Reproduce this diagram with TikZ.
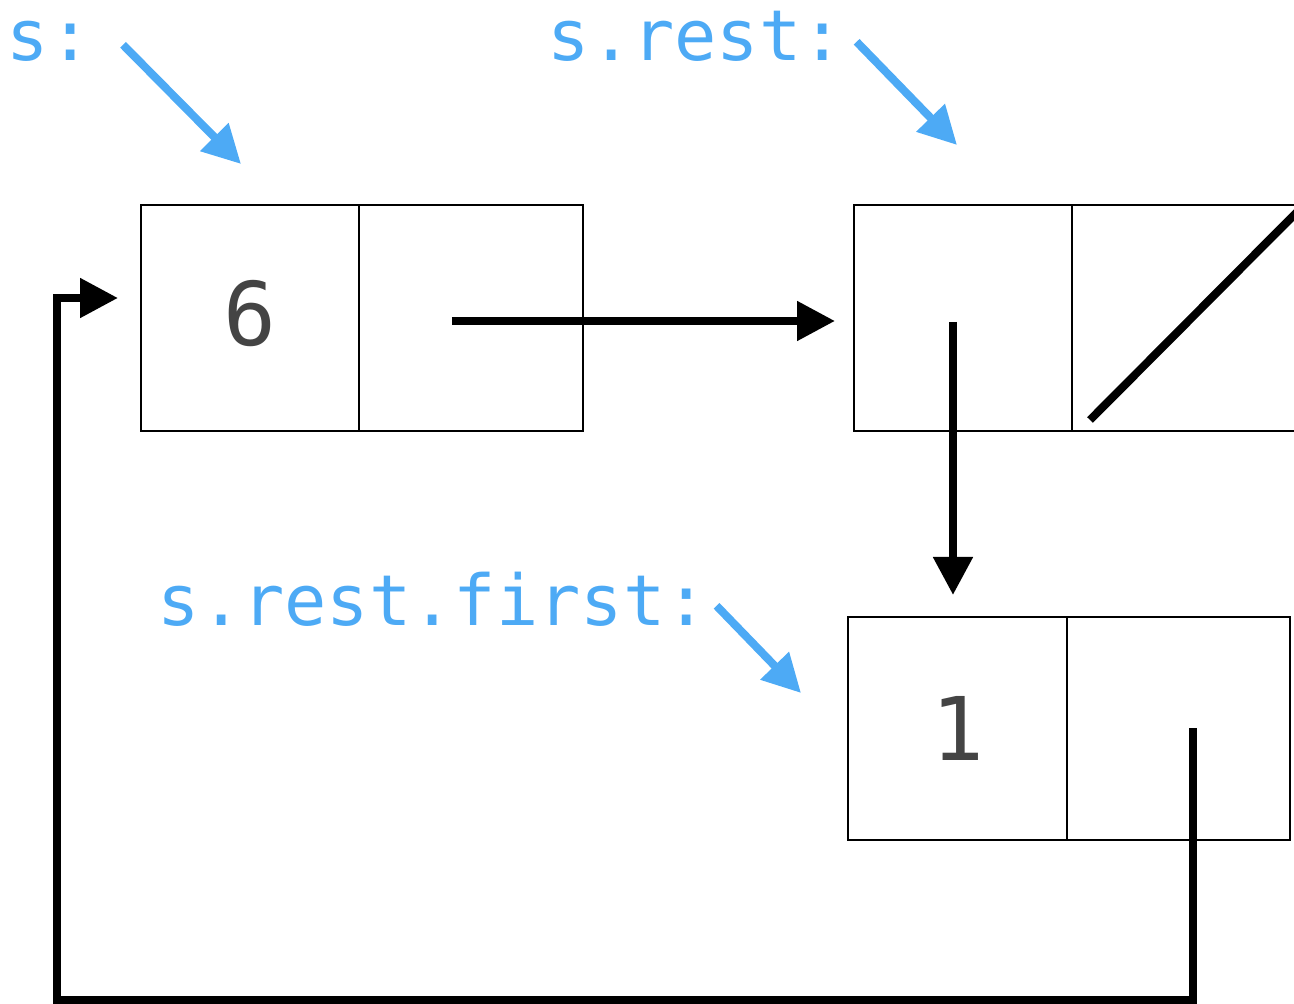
\documentclass[tikz,border=0pt]{standalone}
\usepackage{fontspec}
\setmonofont{DejaVu Sans Mono}
\usetikzlibrary{arrows.meta,positioning}
\definecolor{labelblue}{RGB}{77,170,245}
\definecolor{digitgray}{RGB}{68,68,68}
\tikzset{
  cell/.style={draw, line width=0.6pt, rectangle, minimum height=2.26cm, outer sep=0pt, inner sep=0pt, font=\ttfamily\fontsize{25}{30}\selectfont, text=digitgray},
  firstcell/.style={cell, minimum width=2.18cm},
  restcell/.style={cell, minimum width=2.24cm},
  ptr/.style={line width=2.3pt, -{Triangle[length=0.38cm,width=0.38cm]}},
  varname/.style={font=\ttfamily\fontsize{20}{24}\selectfont, text=labelblue, anchor=base west, inner sep=0pt},
  namearrow/.style={labelblue, line width=2.3pt, -{Triangle[length=0.38cm,width=0.38cm]}},
}

\begin{document}
\begin{tikzpicture}[x=0.1mm, y=-0.1mm]
    \useasboundingbox (0,0) rectangle (1294,1004);

    % pair holding 6
    \node[firstcell, text depth=0.1cm] (six) at (250,318) {6};
    \node[restcell, right=0pt of six] (sixrest) {};
    % pair whose rest is empty
    \node[firstcell] (mid) at (963,318) {};
    \node[restcell, right=0pt of mid] (midrest) {};
    % pair holding 1
    \node[firstcell, minimum height=2.23cm, minimum width=2.19cm] (one) at (957.5,728.5) {1};
    \node[restcell, minimum height=2.23cm, minimum width=2.23cm, right=0pt of one] (onerest) {};

    \draw[line width=2.3pt] ([shift={(18,-11)}]midrest.south west) -- ([shift={(4,4)}]midrest.north east);

    % names
    \node[varname] (sname) at (6,61) {s:};
    \node[varname] (restname) at (547,61) {s.rest:};
    \node[varname] (firstname) at (157,626) {s.rest.first:};

    \draw[namearrow] ([shift={(31,3)}]sname.east) -- ([shift={(-9,-41)}]six.north);
    \draw[namearrow] ([shift={(12,5)}]restname.east) -- ([shift={(-6,-60)}]mid.north);
    \draw[namearrow] ([shift={(8,6)}]firstname.east) -- ([shift={(-47,76)}]one.north west);

    % pointers
    \coordinate (loopcorner) at (57,1000);
    \draw[ptr] ([shift={(-19,3)}]sixrest.center) -- ([shift={(-19,3)}]mid.west);
    \draw[ptr] ([shift={(-10,4)}]mid.center) -- ([shift={(-4.5,-22)}]one.north);
    \draw[ptr] ([shift={(14.5,0)}]onerest.center) |- (loopcorner) |- ([shift={(-23,-20)}]six.west);
\end{tikzpicture}
\end{document}
